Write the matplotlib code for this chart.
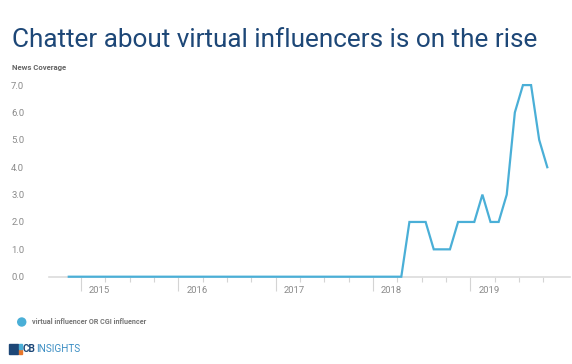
"""Chatter about virtual influencers - monthly news coverage."""

import numpy as np
import pandas as pd
import matplotlib
matplotlib.use("Agg")
import matplotlib.pyplot as plt
from matplotlib.transforms import ScaledTranslation

# monthly news coverage, Nov 2014 .. Oct 2019
months = pd.date_range("2014-11-01", "2019-10-01", freq="MS")
coverage = [0, 0] + [0] * 36 + [0, 0, 0, 0] + [
    2, 2, 2, 1, 1, 1, 2, 2,          # May-Dec 2018
    2, 3, 2, 2, 3, 6, 7, 7, 5, 4,    # Jan-Oct 2019
]
years = [2015, 2016, 2017, 2018, 2019]
y_ticks = [0, 1, 2, 3, 4, 5, 6, 7]
series_name = "virtual influencer OR CGI influencer"
title = "Chatter about virtual influencers is on the rise"

LINE = "#4aafd7"
NAVY = "#1d4777"
GREY = "#8a8a8a"

plt.rcParams["font.family"] = ["Roboto", "DejaVu Sans"]

fig = plt.figure(figsize=(5.72, 3.64), dpi=100)
ax = fig.add_axes([0.0862, 0.2398, 0.9103, 0.549])

# x in months since Jan 2015, points sit mid-month
base = pd.Timestamp("2015-01-01")
x = np.array([(m.year - base.year) * 12 + (m.month - 1) for m in months]) + 0.5

ax.plot(x, coverage, color=LINE, lw=1.6, solid_joinstyle="miter", clip_on=False, zorder=3)

ax.set_xlim(-3.9, 60.3)
ax.set_ylim(0, 7.3)

for s in ["top", "right", "left"]:
    ax.spines[s].set_visible(False)
ax.spines["bottom"].set_color("#dcdcdc")
ax.spines["bottom"].set_linewidth(1.2)

ax.set_yticks(y_ticks, labels=[f"{v:.1f}" for v in y_ticks])
ax.tick_params(axis="y", length=0, pad=18, labelsize=6.8, labelcolor=GREY)

year_pos = [(y - 2015) * 12 for y in years]
ax.set_xticks(year_pos, labels=[str(y) for y in years])
ax.set_xticks([q for q in range(0, 58, 3) if q % 12], minor=True)
ax.tick_params(axis="x", which="major", length=10, width=0.8, color="#d4d4d4",
               labelsize=6.8, labelcolor=GREY, pad=-3)
ax.tick_params(axis="x", which="minor", length=3.6, width=0.8, color="#d4d4d4")
for lab in ax.get_xticklabels():
    lab.set_horizontalalignment("left")
    lab.set_transform(lab.get_transform() + ScaledTranslation(0.08, 0, fig.dpi_scale_trans))

# titles
fig.text(0.021, 0.89, title, fontsize=18.8, color=NAVY, va="center")
fig.text(0.021, 0.815, "News Coverage", fontsize=5.6, color="#666666",
         fontweight="bold", va="center")

# legend
fig.patches.append(matplotlib.patches.Ellipse((0.038, 1 - 322 / 364), 8 / 572, 8 / 364,
                                              transform=fig.transFigure, color=LINE))
fig.text(0.056, 1 - 322 / 364, series_name, fontsize=5.2, color="#777777",
         fontweight="bold", va="center")

# logo
ly = 1 - 349 / 364
fig.patches.append(matplotlib.patches.Rectangle((9 / 572, ly - 5 / 364), 9 / 572, 10 / 364,
                                                transform=fig.transFigure, color=NAVY))
fig.patches.append(matplotlib.patches.Rectangle((18.5 / 572, ly - 5 / 364), 3 / 572, 4 / 364,
                                                transform=fig.transFigure, color="#e8762b"))
fig.patches.append(matplotlib.patches.Rectangle((18.5 / 572, ly + 0.5 / 364), 3 / 572, 4.5 / 364,
                                                transform=fig.transFigure, color=LINE))
cb = fig.text(23 / 572, ly, "CB", fontsize=7.2, color=NAVY, fontweight="bold", va="center")
fig.canvas.draw()
cb_right = cb.get_window_extent().x1 / 572
fig.text(cb_right, ly, "INSIGHTS", fontsize=7.2, color="#3d8fc4", va="center")

fig.savefig("out.png", dpi=100)
